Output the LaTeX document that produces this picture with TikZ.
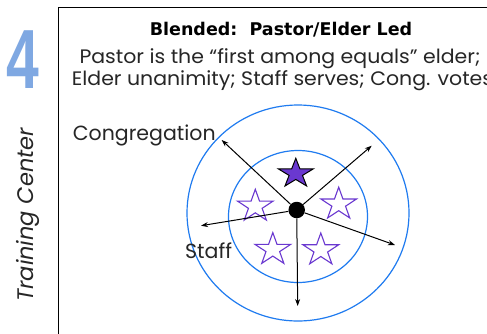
\documentclass[tikz,border=0pt]{standalone}
\usepackage{fontspec}
\setmainfont{Poppins}
\newfontfamily\titlefont{DejaVu Sans}
\newfontfamily\fourfont{Liberation Sans}
\usetikzlibrary{arrows.meta}
\definecolor{ringblue}{HTML}{1F7BF0}
\definecolor{starpurple}{HTML}{6A38D0}
\definecolor{fourblue}{HTML}{7FA8E2}
\tikzset{
  ring/.style={draw=ringblue, line width=1.2pt},
  arr/.style={draw=black, line width=1pt, -{Stealth[length=7pt,width=5pt]}},
  bodytext/.style={font=\fontsize{19.5}{22}\selectfont, inner sep=0pt, text=black!85},
  labeltext/.style={font=\fontsize{20.5}{22}\selectfont, inner sep=0pt, text=black!85},
  pics/fivestar/.style={code={
    \path[pic actions] (90:1) -- (126:0.382) -- (162:1) -- (198:0.382) -- (234:1)
      -- (270:0.382) -- (306:1) -- (342:0.382) -- (18:1) -- (54:0.382) -- cycle;}},
  staroutline/.style={draw=starpurple, line width=1.1pt, fill=white},
  starfilled/.style={draw=black, line width=1pt, fill=starpurple}
}
\begin{document}
\begin{tikzpicture}[x=1pt,y=-1pt]
\useasboundingbox (0,0) rectangle (487,333);
\clip (0,0) rectangle (487,333);
\fill[white] (0,0) rectangle (487,333);
% frame
\draw[line width=0.9pt] (58,7) rectangle (540,380);
% side labels
\node[anchor=base west, inner sep=0pt, text=fourblue,
      font=\fourfont\bfseries\fontsize{84}{84}\selectfont] (four) at (6,88.3) {\scalebox{0.7}[1]{4}};
\node[anchor=base, rotate=90, inner sep=0pt, text=black!85,
      font=\itshape\fontsize{22.5}{24}\selectfont] (tc) at (33.8,214.8) {Training Center};
% header text
\node[anchor=base, inner sep=0pt, font=\titlefont\bfseries\fontsize{17.5}{20}\selectfont] (title) at (281,35) {Blended:\ \ Pastor/Elder Led};
\node[anchor=base, bodytext] (line2) at (280,63) {\scalebox{1.05}[1]{Pastor is the “first among equals” elder;}};
\node[anchor=base west, bodytext] (line3) at (71.7,85) {\scalebox{1.05}[1]{Elder unanimity; Staff serves; Cong. votes}};
% rings
\draw[ring] (298,213) ellipse [x radius=111pt, y radius=108pt];
\draw[ring] (298,216.5) ellipse [x radius=69.5pt, y radius=66pt];
% stars
\begin{scope}[shift={(295.8,173.6)}, x=18.4pt, y=15.3pt]
  \pic[starfilled] {fivestar};
\end{scope}
\begin{scope}[shift={(255.3,206.3)}, x=18.8pt, y=17pt]
  \pic[staroutline] {fivestar};
\end{scope}
\begin{scope}[shift={(338.7,204.2)}, x=18.8pt, y=17pt]
  \pic[staroutline] {fivestar};
\end{scope}
\begin{scope}[shift={(272.8,249.6)}, x=18.8pt, y=17pt]
  \pic[staroutline] {fivestar};
\end{scope}
\begin{scope}[shift={(320.8,250)}, x=18.8pt, y=17pt]
  \pic[staroutline] {fivestar};
\end{scope}
% hub and arrows
\coordinate (tipUL) at (221.7,140);
\coordinate (tipUR) at (371.7,145.7);
\coordinate (tipL) at (201,225.7);
\coordinate (tipLR) at (395,245);
\coordinate (tipD) at (297.7,306);
\node[circle, fill=black, minimum size=16.5pt, inner sep=0pt] (hub) at (296.7,210) {};
\draw[arr] (hub) -- (tipUL);
\draw[arr] (hub) -- (tipUR);
\draw[arr] (hub) -- (tipL);
\draw[arr] (hub) -- (tipLR);
\draw[arr] (hub) -- (tipD);
% labels
\node[anchor=base west, labeltext] (cong) at (72.7,140.7) {Congregation};
\node[anchor=base west, labeltext] (staff) at (185,258.3) {Staff};
\end{tikzpicture}
\end{document}
